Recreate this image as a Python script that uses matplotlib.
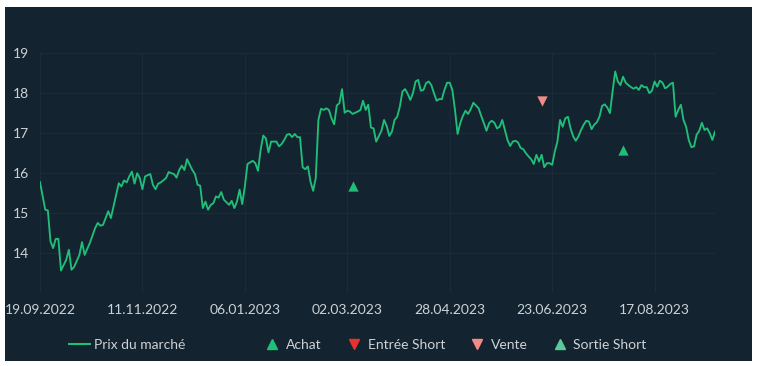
import matplotlib
matplotlib.use("Agg")
import matplotlib.pyplot as plt
from matplotlib.patches import Rectangle
from matplotlib.lines import Line2D

# séances de bourse (index) et prix du marché
seances = [0, 2, 3, 4, 5, 6, 7, 8, 10, 11, 12, 13, 15, 16, 17, 19, 21, 22, 23, 24,
           25, 26, 27, 29, 30, 31, 32, 33, 34, 35, 36, 37, 38, 39, 40, 42, 43, 44, 45, 46,
           48, 49, 50, 51, 52, 53, 54, 55, 56, 58, 59, 60, 61, 62, 63, 64, 65, 66, 67, 68,
           69, 70, 72, 73, 74, 75, 76, 77, 78, 79, 81, 82, 83, 84, 85, 86, 87, 88, 90, 91,
           92, 93, 94, 95, 96, 97, 98, 99, 100, 101, 102, 103, 104, 105, 106, 107, 108, 109, 110, 111,
           112, 113, 114, 115, 116, 117, 118, 119, 121, 122, 123, 124, 125, 126, 127, 128, 130, 131, 132, 133,
           134, 135, 136, 137, 138, 139, 140, 141, 142, 143, 144, 145, 146, 147, 148, 149, 150, 151, 152, 153,
           154, 155, 156, 157, 158, 159, 160, 161, 162, 163, 164, 165, 166, 167, 168, 169, 170, 171, 172, 173,
           174, 175, 176, 177, 178, 179, 180, 181, 182, 183, 184, 185, 186, 187, 188, 189, 190, 191, 192, 193,
           194, 195, 196, 197, 198, 199, 200, 201, 202, 203, 204, 205, 206, 207, 208, 209, 210, 211, 212, 213,
           214, 215, 216, 217, 218, 219, 220, 221, 222, 223, 224, 225, 226, 227, 228, 229, 230, 231, 232, 233,
           234, 235, 236, 237, 238, 239, 240, 241, 242, 243, 244, 245, 246, 247, 248, 249, 250, 251, 252, 253,
           254, 255, 256, 257]
prix = [15.77, 15.08, 15.06, 14.29, 14.12, 14.35, 14.35, 13.56, 13.83, 14.08, 13.58, 13.65, 13.95, 14.27, 13.95, 14.25, 14.62, 14.75, 14.68, 14.70,
        14.87, 15.04, 14.87, 15.45, 15.74, 15.66, 15.81, 15.76, 15.91, 16.03, 15.73, 15.99, 15.87, 15.59, 15.91, 15.97, 15.70, 15.59, 15.73, 15.76,
        15.87, 16.02, 15.99, 15.97, 15.88, 16.07, 16.18, 16.07, 16.34, 16.07, 15.97, 15.70, 15.68, 15.12, 15.28, 15.08, 15.20, 15.24, 15.41, 15.38,
        15.52, 15.33, 15.20, 15.30, 15.12, 15.28, 15.58, 15.22, 15.66, 16.22, 16.30, 16.24, 16.05, 16.57, 16.93, 16.86, 16.51, 16.78, 16.78, 16.66,
        16.72, 16.82, 16.95, 16.97, 16.89, 16.97, 16.89, 16.89, 16.14, 16.09, 16.16, 15.78, 15.55, 15.87, 17.32, 17.60, 17.57, 17.61, 17.57, 17.36,
        17.21, 17.68, 17.74, 18.09, 17.50, 17.55, 17.53, 17.47, 17.53, 17.57, 17.80, 17.57, 17.70, 17.13, 17.11, 16.78, 17.05, 17.32, 17.17, 16.92,
        17.03, 17.32, 17.40, 17.65, 18.03, 18.09, 17.97, 17.82, 17.99, 18.28, 18.32, 18.05, 18.07, 18.24, 18.28, 18.19, 17.99, 17.80, 17.84, 17.84,
        18.07, 18.25, 18.25, 18.07, 17.57, 16.97, 17.24, 17.42, 17.55, 17.47, 17.59, 17.75, 17.68, 17.61, 17.42, 17.24, 17.05, 17.24, 17.30, 17.25,
        17.11, 17.15, 17.32, 17.07, 16.82, 16.67, 16.78, 16.80, 16.76, 16.62, 16.59, 16.49, 16.41, 16.34, 16.22, 16.45, 16.28, 16.45, 16.14, 16.24,
        16.24, 16.20, 16.53, 16.78, 17.32, 17.15, 17.36, 17.40, 17.11, 16.91, 16.80, 16.91, 17.07, 17.20, 17.30, 17.28, 17.09, 17.20, 17.26, 17.40,
        17.67, 17.71, 17.63, 17.49, 18.03, 18.53, 18.28, 18.19, 18.40, 18.25, 18.19, 18.14, 18.10, 18.14, 18.07, 18.19, 18.14, 18.14, 17.99, 18.05,
        18.28, 18.15, 18.30, 18.25, 18.11, 18.15, 18.22, 18.25, 17.40, 17.57, 17.70, 17.32, 17.15, 16.82, 16.64, 16.66, 16.95, 17.05, 17.25, 17.07,
        17.11, 16.99, 16.82, 17.03]

# signaux
achat_seances = [119, 222]
achat_prix = [15.68, 16.56]
vente_seances = [191]
vente_prix = [17.80]
entree_short_seances = []
entree_short_prix = []
sortie_short_seances = []
sortie_short_prix = []

# axe x : une étiquette toutes les 39 séances
tick_seances = [0, 39, 78, 117, 156, 195, 234]
tick_dates = ['19.09.2022', '11.11.2022', '06.01.2023', '02.03.2023',
              '28.04.2023', '23.06.2023', '17.08.2023']
y_ticks = [14, 15, 16, 17, 18, 19]

fond = '#13232f'
texte = '#cdd2d6'
grille = '#1a2c39'
vert = '#20be78'

plt.rcParams['font.family'] = ['Lato', 'DejaVu Sans']

fig = plt.figure(figsize=(7.6, 3.66), dpi=100)
fig.patch.set_facecolor('white')
fig.patches.append(Rectangle((0.0066, 0.0137), 0.983, 0.967, transform=fig.transFigure,
                             facecolor=fond, edgecolor='none', zorder=-10))

ax = fig.add_axes([0.0526, 0.1995, 0.8882, 0.6566])
ax.set_zorder(1)
ax.set_facecolor(fond)
ax.plot(seances, prix, color=vert, linewidth=1.35, zorder=3)
ax.scatter(achat_seances, achat_prix, marker='^', s=55, color='#1fbf77', zorder=4, linewidths=0)
ax.scatter(vente_seances, vente_prix, marker='v', s=55, color='#f28b86', zorder=4, linewidths=0)
ax.scatter(entree_short_seances, entree_short_prix, marker='v', s=55, color='#e8322f', zorder=4)
ax.scatter(sortie_short_seances, sortie_short_prix, marker='^', s=55, color='#5cc99a', zorder=4)

ax.set_xlim(0, 257)
ax.set_ylim(13, 19)
ax.set_xticks(tick_seances)
ax.set_xticklabels(tick_dates)
ax.set_yticks(y_ticks)
ax.set_yticks([13], minor=True)
ax.grid(True, color=grille, linewidth=0.8, zorder=1)
ax.grid(True, which='minor', axis='y', color=grille, linewidth=0.8, zorder=1)
ax.tick_params(axis='both', which='both', length=0, colors=texte, labelsize=10)
ax.tick_params(axis='x', pad=8)
ax.tick_params(axis='y', pad=8)
for s in ax.spines.values():
    s.set_visible(False)

# légendes
h_prix = [Line2D([], [], color=vert, linewidth=1.5)]
fig.legend(h_prix, ['Prix du marché'], loc='center', bbox_to_anchor=(0.167, 0.057),
           frameon=False, fontsize=10, labelcolor=texte, handlelength=1.5, handletextpad=0.3)

h_sig = [Line2D([], [], marker='^', linestyle='none', color='#1fbf77', markersize=7),
         Line2D([], [], marker='v', linestyle='none', color='#e8322f', markersize=7),
         Line2D([], [], marker='v', linestyle='none', color='#f28b86', markersize=7),
         Line2D([], [], marker='^', linestyle='none', color='#5cc99a', markersize=7)]
fig.legend(h_sig, ['Achat', 'Entrée Short', 'Vente', 'Sortie Short'], loc='center',
           bbox_to_anchor=(0.6, 0.057), ncol=4, frameon=False, fontsize=10, labelcolor=texte,
           handlelength=1.0, handletextpad=0.5, columnspacing=1.8)

fig.savefig('out.png', dpi=100, facecolor='white')
